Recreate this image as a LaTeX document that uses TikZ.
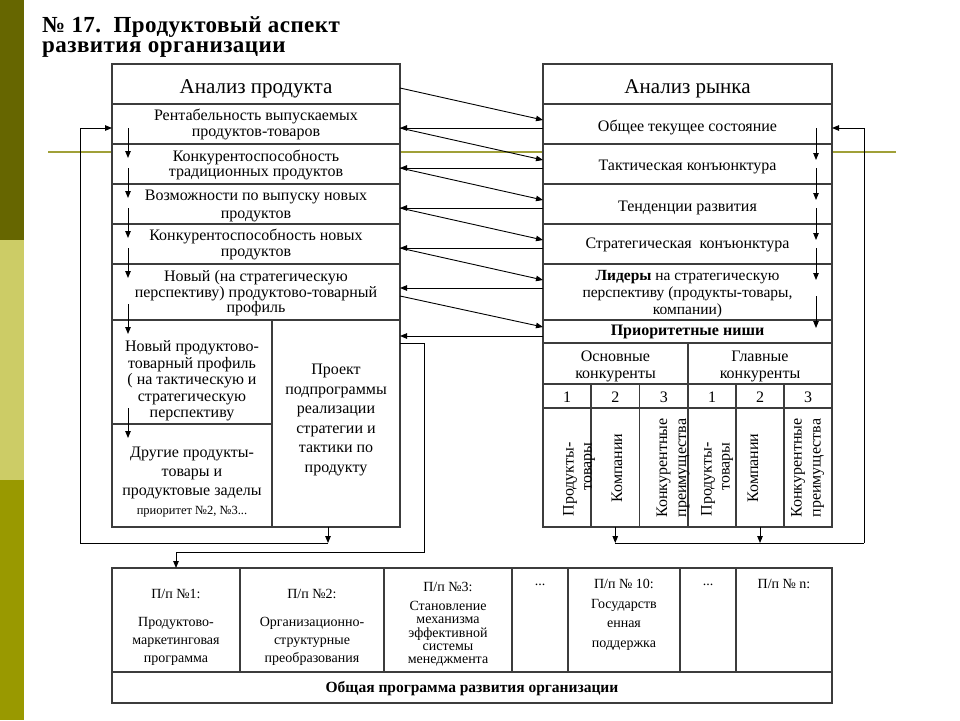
\documentclass[tikz,border=0pt]{standalone}
\usepackage{fontspec}
\setmainfont{Liberation Serif}
\usetikzlibrary{arrows.meta,calc}
\definecolor{barA}{HTML}{666600}
\definecolor{barB}{HTML}{CCCC66}
\definecolor{barC}{HTML}{999900}
\definecolor{oliveline}{HTML}{A0A038}
\definecolor{boxline}{HTML}{3C3C3C}
\newcommand{\fs}[2]{\fontsize{#1}{#2}\selectfont\lineskiplimit=-30pt\relax}
\newcommand{\lowr}[1]{\rule{0pt}{#1}}
\begin{document}
\begin{tikzpicture}[x=1pt,y=-1pt,
  cell/.style={draw=boxline, line width=1.2pt, fill=white, anchor=north west, inner sep=1pt, outer sep=0pt, align=center, font=\fs{16}{15}},
  arr/.style={draw=black, line width=0.9pt, -{Triangle[length=7pt,width=5.5pt]}},
  ln/.style={draw=black, line width=0.9pt},
  txt/.style={inner sep=0pt, align=center},
]
\useasboundingbox (0,0) rectangle (960,720);
\fill[white] (0,0) rectangle (960,720);
\fill[barA] (0,0) rectangle (24,240);
\fill[barB] (0,240) rectangle (24,480);
\fill[barC] (0,480) rectangle (24,720);
\draw[oliveline, line width=2pt] (48,152) -- (896,152);

% title
\node[anchor=north west, inner sep=0pt, align=left, font=\bfseries\fs{23}{20}\addfontfeature{LetterSpace=2}] (title) at (42,16) {\rule{0pt}{16pt}№ 17.\ \ Продуктовый аспект\\развития организации};

% left box
\node[cell, minimum width=288pt, minimum height=40pt, font=\fs{21}{21}] (LH) at (112,64) {\lowr{24pt}Анализ продукта};
\node[cell, minimum width=288pt, minimum height=40pt, font=\fs{16}{16}] (L1) at (112,104) {\lowr{13pt}Рентабельность выпускаемых\\продуктов-товаров};
\node[cell, minimum width=288pt, minimum height=40pt] (L2) at (112,144) {\lowr{13pt}Конкурентоспособность\\традиционных продуктов};
\node[cell, minimum width=288pt, minimum height=40pt, font=\fs{16}{18}] (L3) at (112,184) {\lowr{15pt}Возможности по выпуску новых\\продуктов};
\node[cell, minimum width=288pt, minimum height=40pt, font=\fs{16}{16}] (L4) at (112,224) {\lowr{13pt}Конкурентоспособность новых\\продуктов};
\node[cell, minimum width=288pt, minimum height=56pt, font=\fs{16}{15.5}] (L5) at (112,264) {\lowr{14pt}Новый (на стратегическую\\перспективу) продуктово-товарный\\профиль};
\node[cell, minimum width=160pt, minimum height=104pt, font=\fs{16}{16.5}] (LA) at (112,320) {\lowr{29pt}Новый продуктово-\\товарный профиль\\( на тактическую и\\стратегическую\\перспективу};
\node[cell, minimum width=160pt, minimum height=103pt, font=\fs{16}{19}] (LB) at (112,424) {\lowr{24pt}Другие продукты-\\товары и\\продуктовые заделы\\{\fs{12.5}{19}приоритет №2, №3...}};
\node[cell, minimum width=128pt, minimum height=207pt, font=\fs{16}{19.5}] (LP) at (272,320) {Проект\\подпрограммы\\реализации\\стратегии и\\тактики по\\продукту\rule[-10pt]{0pt}{0pt}};

% right box
\node[cell, minimum width=289pt, minimum height=40pt, font=\fs{21}{21}] (RH) at (543,64) {\lowr{23pt}Анализ рынка};
\node[cell, minimum width=289pt, minimum height=40pt] (R1) at (543,104) {\lowr{19pt}Общее текущее состояние};
\node[cell, minimum width=289pt, minimum height=40pt] (R2) at (543,144) {\lowr{17pt}Тактическая конъюнктура};
\node[cell, minimum width=289pt, minimum height=40pt] (R3) at (543,184) {\lowr{19pt}Тенденции развития};
\node[cell, minimum width=289pt, minimum height=40pt] (R4) at (543,224) {\lowr{12pt}Стратегическая\ \ конъюнктура};
\node[cell, minimum width=289pt, minimum height=56pt, font=\fs{15.5}{17}] (R5) at (543,264) {\lowr{14pt}\textbf{Лидеры} на стратегическую\\перспективу (продукты-товары,\\компании)};
\node[cell, minimum width=289pt, minimum height=23pt, font=\bfseries\fs{16}{16}] (RN) at (543,320) {Приоритетные ниши};
\node[cell, minimum width=145pt, minimum height=41pt, font=\fs{16}{17}] (RO) at (543,343) {\lowr{16pt}Основные\\конкуренты};
\node[cell, minimum width=144pt, minimum height=41pt, font=\fs{16}{17}] (RG) at (688,343) {\lowr{16pt}Главные\\конкуренты};
\foreach \i/\x/\w/\n in {1/543/48/1, 2/591/48.5/2, 3/639.5/48.5/3, 4/688/48/1, 5/736/48/2, 6/784/48/3} {
  \node[cell, minimum width=\w pt, minimum height=24pt] (N\i) at (\x,384) {\lowr{13pt}\n};
  \node[cell, minimum width=\w pt, minimum height=119pt] (C\i) at (\x,408) {};
}
\node[txt, rotate=90, align=right, font=\fs{16}{18}] (c1t) at (579,479.5) {Продукты-\\товары};
\node[txt, rotate=90, font=\fs{16}{18}] (c2t) at (617,468) {Компании};
\node[txt, rotate=90, font=\fs{16}{19}] (c3t) at (673,468) {Конкурентные\\преимущества};
\node[txt, rotate=90, align=right, font=\fs{16}{18}] (c4t) at (717,479.5) {Продукты-\\товары};
\node[txt, rotate=90, font=\fs{16}{18}] (c5t) at (753,468) {Компании};
\node[txt, rotate=90, font=\fs{16}{19}] (c6t) at (807.5,468) {Конкурентные\\преимущества};

% bottom box
\node[cell, minimum width=128pt, minimum height=104pt] (P1) at (112,568) {};
\node[cell, minimum width=144pt, minimum height=104pt] (P2) at (240,568) {};
\node[cell, minimum width=128pt, minimum height=104pt] (P3) at (384,568) {};
\node[cell, minimum width=56pt, minimum height=104pt] (P4) at (512,568) {};
\node[cell, minimum width=112pt, minimum height=104pt] (P5) at (568,568) {};
\node[cell, minimum width=56pt, minimum height=104pt] (P6) at (680,568) {};
\node[cell, minimum width=96pt, minimum height=104pt] (P7) at (736,568) {};
\node[cell, minimum width=720pt, minimum height=31pt, font=\bfseries\fs{15.5}{15.5}] (PB) at (112,672) {\lowr{14pt}Общая программа развития организации};

\node[txt, anchor=north, font=\fs{14}{18}] (p1t) at (176,589) {П/п №1:\\[10pt]Продуктово-\\маркетинговая\\программа};
\node[txt, anchor=north, font=\fs{14}{18}] (p2t) at (312,589) {П/п №2:\\[10pt]Организационно-\\структурные\\преобразования};
\node[txt, anchor=north, font=\fs{14}{13.2}] (p3t) at (448,582) {П/п №3:\\[6pt]Становление\\механизма\\эффективной\\системы\\менеджмента};
\node[txt, anchor=north, font=\fs{14}{14}] (p4t) at (540,584) {...};
\node[txt, anchor=north, font=\fs{14}{19.5}] (p5t) at (624,579) {П/п № 10:\\Государств\\енная\\поддержка};
\node[txt, anchor=north, font=\fs{14}{14}] (p6t) at (708,584) {...};
\node[txt, anchor=north, font=\fs{14}{14}] (p7t) at (784,579) {П/п № n:};

% inner down arrows
\foreach \r in {L1,L2,L3,L4,L5,LA}
  \draw[arr] ([xshift=16pt,yshift=16pt]\r.south west) -- ([xshift=16pt,yshift=-14pt]\r.south west);
\foreach \r in {R1,R2,R3,R4}
  \draw[arr] ([xshift=-16pt,yshift=16pt]\r.south east) -- ([xshift=-16pt,yshift=-16pt]\r.south east);
\draw[arr] ([xshift=-16pt,yshift=24pt]R5.south east) -- ([xshift=-16pt,yshift=-8pt]R5.south east);

% connectors between boxes
\draw[arr] ([yshift=-4pt]LH.east) -- ([yshift=4pt]R1.west);
\draw[arr] ([yshift=-4pt]R1.west) -- ([yshift=-4pt]L1.east);
\draw[arr] ([yshift=-4pt]L1.east) -- ([yshift=4pt]R2.west);
\draw[arr] ([yshift=-4pt]R2.west) -- ([yshift=-4pt]L2.east);
\draw[arr] ([yshift=-4pt]L2.east) -- ([yshift=4pt]R3.west);
\draw[arr] ([yshift=-4pt]R3.west) -- ([yshift=-4pt]L3.east);
\draw[arr] ([yshift=-4pt]L3.east) -- ([yshift=4pt]R4.west);
\draw[arr] ([yshift=-4pt]R4.west) -- ([yshift=-4pt]L4.east);
\draw[arr] ([yshift=-4pt]L4.east) -- ([yshift=12pt]R5.west);
\draw[arr] ([yshift=4pt]R5.west) -- ([yshift=4pt]L5.east);
\draw[arr] ([yshift=-4pt]L5.east) -- ([yshift=4.5pt]RN.west);
\draw[arr] ([yshift=-4.5pt]RN.west) -- ([yshift=-16pt]LP.north east);

% feedback left
\coordinate (fL) at (328,543);
\coordinate (cL) at (80,543);
\draw[arr] ([xshift=-8pt]LP.south) -- (fL);
\draw[arr] (fL) -- (cL) |- ([yshift=-4pt]L1.west);

% to bottom
\coordinate (cB) at (424,552);
\draw[arr] ([yshift=-23pt]LP.north east) -| (cB) -| (P1.north);

% feedback right
\coordinate (cR) at (864,543);
\draw[arr] (C2.south) -- (C2.south |- cR);
\draw[arr] (C5.south) -- (C5.south |- cR);
\draw[ln] (C2.south |- cR) -- (cR);
\draw[arr] (cR) |- ([yshift=-4pt]R1.east);
\end{tikzpicture}
\end{document}
